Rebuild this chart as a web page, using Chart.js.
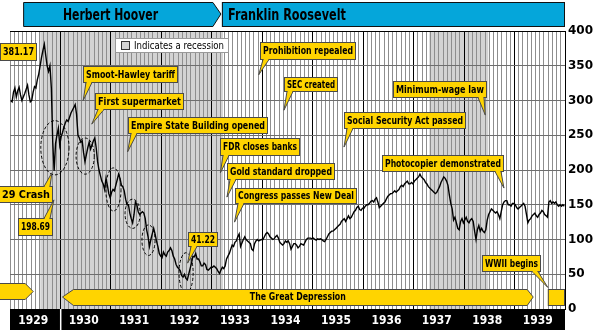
<!DOCTYPE html>
<html>
<head>
<meta charset="utf-8">
<style>
  html, body { margin: 0; padding: 0; background: #fff; }
  #wrap { width: 600px; height: 333px; position: relative; }
</style>
</head>
<body>
<div id="wrap"><canvas id="dow"></canvas></div>
<script src="https://cdn.jsdelivr.net/npm/chart.js@4/dist/chart.umd.min.js"></script>
<script>
// Dow Jones Industrial Average, three readings per month (about the 1st, 11th and 21st)
const years = [1929, 1930, 1931, 1932, 1933, 1934, 1935, 1936, 1937, 1938, 1939]
const dow1929 = [300, 298, 312, 318, 305, 314, 319, 308, 300, 305, 310, 316, 322, 308, 298, 300, 312, 320, 318, 330, 338, 350, 362, 372, 381, 365, 350, 342, 350, 318, 240, 199, 238, 250, 260, 236]
const dow1930 = [248, 254, 262, 268, 272, 270, 276, 282, 286, 290, 294, 280, 250, 246, 240, 242, 225, 212, 222, 232, 240, 230, 236, 242, 246, 232, 212, 200, 192, 184, 180, 172, 188, 178, 166, 160]
const dow1931 = [168, 172, 170, 178, 186, 194, 188, 178, 176, 170, 158, 150, 150, 138, 130, 124, 136, 154, 150, 140, 136, 138, 140, 138, 130, 114, 104, 90, 100, 108, 116, 108, 98, 90, 80, 76]
const dow1932 = [74, 82, 78, 76, 82, 84, 88, 84, 76, 72, 64, 60, 58, 55, 48, 46, 50, 44, 42, 50, 58, 66, 76, 75, 80, 72, 72, 68, 62, 62, 66, 64, 57, 56, 58, 60]
const dow1933 = [60, 62, 60, 58, 54, 51, 56, 60, 58, 62, 72, 76, 80, 86, 92, 90, 96, 98, 104, 108, 90, 95, 100, 104, 100, 98, 96, 94, 86, 84, 94, 98, 100, 98, 99, 100]
const dow1934 = [100, 104, 108, 110, 108, 104, 102, 100, 101, 104, 106, 102, 96, 94, 92, 94, 98, 96, 98, 94, 86, 90, 94, 94, 92, 88, 90, 94, 93, 92, 96, 100, 102, 102, 102, 101]
const dow1935 = [102, 100, 99, 101, 100, 101, 100, 98, 97, 100, 104, 108, 110, 112, 112, 114, 116, 118, 120, 122, 126, 128, 130, 126, 130, 134, 130, 132, 136, 140, 142, 146, 148, 143, 142, 145]
const dow1936 = [145, 148, 150, 150, 152, 155, 156, 154, 158, 160, 154, 146, 148, 150, 152, 154, 158, 162, 164, 166, 166, 168, 170, 168, 170, 172, 176, 178, 176, 180, 182, 184, 180, 180, 182, 180]
const dow1937 = [184, 186, 188, 190, 194, 190, 188, 186, 182, 180, 176, 174, 172, 170, 168, 166, 168, 172, 176, 182, 186, 190, 188, 184, 178, 164, 152, 144, 128, 132, 124, 116, 114, 126, 130, 124]
const dow1938 = [128, 132, 126, 124, 128, 130, 126, 112, 100, 114, 120, 112, 116, 112, 110, 114, 128, 136, 140, 144, 142, 140, 138, 140, 136, 130, 140, 150, 154, 156, 156, 150, 150, 148, 152, 152]
const dow1939 = [150, 146, 144, 146, 148, 150, 152, 148, 136, 124, 128, 130, 134, 136, 138, 134, 132, 136, 138, 142, 140, 136, 134, 132, 154, 156, 152, 154, 152, 154, 150, 148, 150, 148, 150, 148]
const dowByYear = [dow1929, dow1930, dow1931, dow1932, dow1933, dow1934, dow1935, dow1936, dow1937, dow1938, dow1939]

const yTicks = [0, 50, 100, 150, 200, 250, 300, 350, 400]
const recessionStart = [1929.6, 1937.31]
const recessionEnd = [1933.22, 1938.48]

// dashed ovals round the sell-offs (centre date/value, half width in years, half height in points)
const ovalDates = [1929.89, 1930.49, 1931.05, 1931.43, 1931.745, 1932.49]
const ovalValues = [232, 220, 172, 137, 99, 52]
const ovalYearSpan = [0.28, 0.18, 0.15, 0.15, 0.13, 0.14]
const ovalValueSpan = [39, 26, 31, 21, 22, 29]

const YELLOW = '#FFD400'
const EDGE = '#4a4a4a'
const BLUE = '#05A6DA'
const LABEL_FONT = 'bold 11px "DejaVu Sans Condensed", "DejaVu Sans", sans-serif'
const HEAVY = '"DejaVu Sans", "Liberation Sans", sans-serif'

// callout boxes: box in px [left, top, right, bottom], pointer tip at [date, value]
const callouts = [
  { text: '381.17', box: [0, 43, 37, 61] },
  { text: 'Smoot-Hawley tariff', box: [83, 66, 178, 83], tail: 'bl', at: [1930.45, 300] },
  { text: 'First supermarket', box: [95, 93, 184, 110], tail: 'bl', at: [1930.62, 266] },
  { text: 'Empire State Building opened', box: [128, 117, 268, 134], tail: 'bl', at: [1931.33, 226] },
  { text: 'FDR closes banks', box: [220, 138, 300, 156], tail: 'bl', at: [1933.17, 196] },
  { text: 'Gold standard dropped', box: [227, 163, 335, 180], tail: 'bl', at: [1933.3, 161] },
  { text: 'Congress passes New Deal', box: [235, 188, 357, 204], tail: 'bl', at: [1933.45, 125] },
  { text: '41.22', box: [188, 232, 218, 247], tail: 'bl', at: [1932.52, 66] },
  { text: '29 Crash', box: [-1, 186, 53, 203], tail: 'tr', at: [1929.83, 196] },
  { text: '198.69', box: [18, 218, 53, 236], tail: 'tr', at: [1929.87, 157] },
  { text: 'Prohibition repealed', box: [260, 42, 356, 60], tail: 'bl', at: [1933.93, 337] },
  { text: 'SEC created', box: [284, 77, 338, 92], tail: 'bl', at: [1934.43, 286] },
  { text: 'Social Security Act passed', box: [344, 112, 466, 129], tail: 'bl', at: [1935.62, 233] },
  { text: 'Minimum-wage law', box: [393, 81, 487, 98], tail: 'br', at: [1938.42, 279] },
  { text: 'Photocopier demonstrated', box: [382, 155, 504, 172], tail: 'br', at: [1938.79, 174] },
  { text: 'WWII begins', box: [482, 255, 541, 272], tail: 'br', at: [1939.66, 31] }
]

const points = []
dowByYear.forEach((vals, k) => {
  vals.forEach((v, i) => points.push({ x: years[k] + (i + 0.5) / 36, y: v }))
})

function isYearLine(v) {
  const m = Math.round((v - 1929) * 12)
  return m % 12 === 0 && m > 0 && m < 132
}

function drawCallout(ctx, c, xs, ys) {
  const [l, t, r, b] = c.box
  ctx.fillStyle = YELLOW
  ctx.strokeStyle = EDGE
  ctx.lineWidth = 1
  ctx.fillRect(l, t, r - l, b - t)
  ctx.strokeRect(l + 0.5, t + 0.5, r - l - 1, b - t - 1)
  if (c.tail) {
    const tx = xs.getPixelForValue(c.at[0])
    const ty = ys.getPixelForValue(c.at[1])
    let a, z, edge
    if (c.tail === 'bl') { a = l + 3; z = l + 9; edge = b - 0.5 }
    else if (c.tail === 'br') { a = r - 9; z = r - 3; edge = b - 0.5 }
    else { a = r - 9; z = r - 3; edge = t + 0.5 }
    ctx.beginPath()
    ctx.moveTo(a, edge); ctx.lineTo(tx, ty); ctx.lineTo(z, edge); ctx.closePath()
    ctx.fill()
    ctx.beginPath()
    ctx.moveTo(a, edge); ctx.lineTo(tx, ty); ctx.lineTo(z, edge)
    ctx.stroke()
    ctx.fillRect(a + 1, edge - 1, z - a - 2, 2)
  }
  ctx.fillStyle = '#000'
  ctx.font = LABEL_FONT
  ctx.textAlign = 'center'
  ctx.textBaseline = 'middle'
  ctx.fillText(c.text, (l + r) / 2, (t + b) / 2 + 0.5, r - l - 6)
}

const decor = {
  id: 'decor',
  beforeDraw(chart) {
    const { ctx, chartArea: a, scales: { x } } = chart
    ctx.save()
    ctx.fillStyle = '#d3d3d3'
    recessionStart.forEach((s, i) => {
      const x0 = x.getPixelForValue(s)
      const x1 = x.getPixelForValue(recessionEnd[i])
      ctx.fillRect(x0, a.top, x1 - x0, a.bottom - a.top)
    })
    ctx.restore()
  },
  afterDraw(chart) {
    const { ctx, chartArea: a, scales: { x, y } } = chart
    ctx.save()

    // dashed ovals
    ctx.strokeStyle = '#000'
    ctx.lineWidth = 1
    ctx.setLineDash([3, 2])
    ovalDates.forEach((d, i) => {
      const cx = x.getPixelForValue(d)
      const cy = y.getPixelForValue(ovalValues[i])
      const rx = x.getPixelForValue(d + ovalYearSpan[i]) - cx
      const ry = y.getPixelForValue(ovalValues[i] - ovalValueSpan[i]) - cy
      ctx.beginPath()
      ctx.ellipse(cx, cy, rx, ry, 0, 0, Math.PI * 2)
      ctx.stroke()
    })
    ctx.setLineDash([])

    // recession key
    ctx.fillStyle = '#fff'
    ctx.fillRect(115, 38, 114, 15)
    ctx.strokeStyle = '#999'
    ctx.strokeRect(115.5, 38.5, 113, 14)
    ctx.fillStyle = '#d3d3d3'
    ctx.fillRect(121, 41, 9, 9)
    ctx.strokeStyle = '#333'
    ctx.strokeRect(121.5, 41.5, 8, 8)
    ctx.fillStyle = '#000'
    ctx.font = '11px "DejaVu Sans Condensed", "DejaVu Sans", sans-serif'
    ctx.textAlign = 'left'
    ctx.textBaseline = 'middle'
    ctx.fillText('Indicates a recession', 134, 46, 90)

    callouts.forEach(c => drawCallout(ctx, c, x, y))

    // presidents
    const hStart = x.getPixelForValue(1929.26)
    const fStart = x.getPixelForValue(1933.2)
    ctx.fillStyle = BLUE
    ctx.strokeStyle = '#111'
    ctx.beginPath()
    ctx.moveTo(hStart + 0.5, 2.5)
    ctx.lineTo(fStart - 9, 2.5)
    ctx.lineTo(fStart - 1, 14)
    ctx.lineTo(fStart - 9, 26.5)
    ctx.lineTo(hStart + 0.5, 26.5)
    ctx.closePath()
    ctx.fill(); ctx.stroke()
    ctx.fillRect(fStart, 2, a.right - fStart, 25)
    ctx.strokeRect(fStart + 0.5, 2.5, a.right - fStart - 1, 24)
    ctx.fillStyle = '#000'
    ctx.font = 'bold 15px ' + HEAVY
    ctx.textAlign = 'left'
    ctx.textBaseline = 'alphabetic'
    ctx.fillText('Herbert Hoover', 63, 20, 95)
    ctx.fillText('Franklin Roosevelt', fStart + 6, 20, 118)

    // yellow era arrows
    ctx.fillStyle = YELLOW
    ctx.strokeStyle = EDGE
    const tipL = x.getPixelForValue(1929.46)
    ctx.beginPath()
    ctx.moveTo(-1, 283.5); ctx.lineTo(tipL - 8, 283.5); ctx.lineTo(tipL, 291.5)
    ctx.lineTo(tipL - 8, 299.5); ctx.lineTo(-1, 299.5); ctx.closePath()
    ctx.fill(); ctx.stroke()
    const gd0 = x.getPixelForValue(1930.04)
    const gd1 = x.getPixelForValue(1939.37)
    ctx.beginPath()
    ctx.moveTo(gd0, 297); ctx.lineTo(gd0 + 11, 289.5); ctx.lineTo(gd1 - 6, 289.5)
    ctx.lineTo(gd1, 297); ctx.lineTo(gd1 - 6, 305.5); ctx.lineTo(gd0 + 11, 305.5)
    ctx.closePath()
    ctx.fill(); ctx.stroke()
    const ww = x.getPixelForValue(1939.66)
    ctx.fillRect(ww, 289, a.right - ww, 17)
    ctx.strokeRect(ww + 0.5, 289.5, a.right - ww - 1, 16)
    ctx.fillStyle = '#000'
    ctx.font = LABEL_FONT
    ctx.textAlign = 'center'
    ctx.textBaseline = 'middle'
    ctx.fillText('The Great Depression', (gd0 + gd1) / 2, 297.5, 96)

    // year band
    ctx.fillStyle = '#000'
    ctx.fillRect(a.left, a.bottom, a.right - a.left, 21)
    ctx.fillStyle = '#fff'
    ctx.fillRect(x.getPixelForValue(1930) - 0.5, a.bottom, 1.5, 21)
    ctx.font = 'bold 13px ' + HEAVY
    ctx.textBaseline = 'alphabetic'
    years.forEach(yr => {
      ctx.fillText(String(yr), x.getPixelForValue(yr + 0.5) - 2, a.bottom + 15, 30)
    })
    ctx.restore()
  }
}

new Chart(document.getElementById('dow'), {
  type: 'line',
  data: {
    datasets: [{
      label: 'Dow Jones Industrial Average',
      data: points,
      borderColor: '#000',
      borderWidth: 1.4,
      pointRadius: 0,
      tension: 0
    }]
  },
  options: {
    responsive: true,
    maintainAspectRatio: false,
    animation: false,
    devicePixelRatio: 1,
    layout: { padding: { left: 10, top: 31, right: 0, bottom: 24 } },
    plugins: { legend: { display: false }, tooltip: { enabled: false } },
    scales: {
      x: {
        type: 'linear',
        min: 1929,
        max: 1940,
        afterBuildTicks: scale => {
          const ticks = []
          for (let m = 0; m <= 132; m++) ticks.push({ value: 1929 + m / 12 })
          scale.ticks = ticks
        },
        ticks: { display: false },
        grid: {
          drawTicks: false,
          color: c => isYearLine(c.tick.value) ? '#000' : '#8e8e8e',
          lineWidth: 1
        },
        border: { display: false }
      },
      y: {
        position: 'right',
        min: 0,
        max: 400,
        afterBuildTicks: scale => { scale.ticks = yTicks.map(v => ({ value: v })) },
        afterFit: scale => { scale.width = 35 },
        ticks: {
          padding: 3,
          color: '#000',
          font: { family: HEAVY, size: 12, weight: 'bold' }
        },
        grid: {
          drawTicks: false,
          color: c => c.tick.value === 400 ? '#000' : '#6e6e6e'
        },
        border: { display: true, color: '#000' }
      }
    }
  },
  plugins: [decor]
})
</script>
</body>
</html>
